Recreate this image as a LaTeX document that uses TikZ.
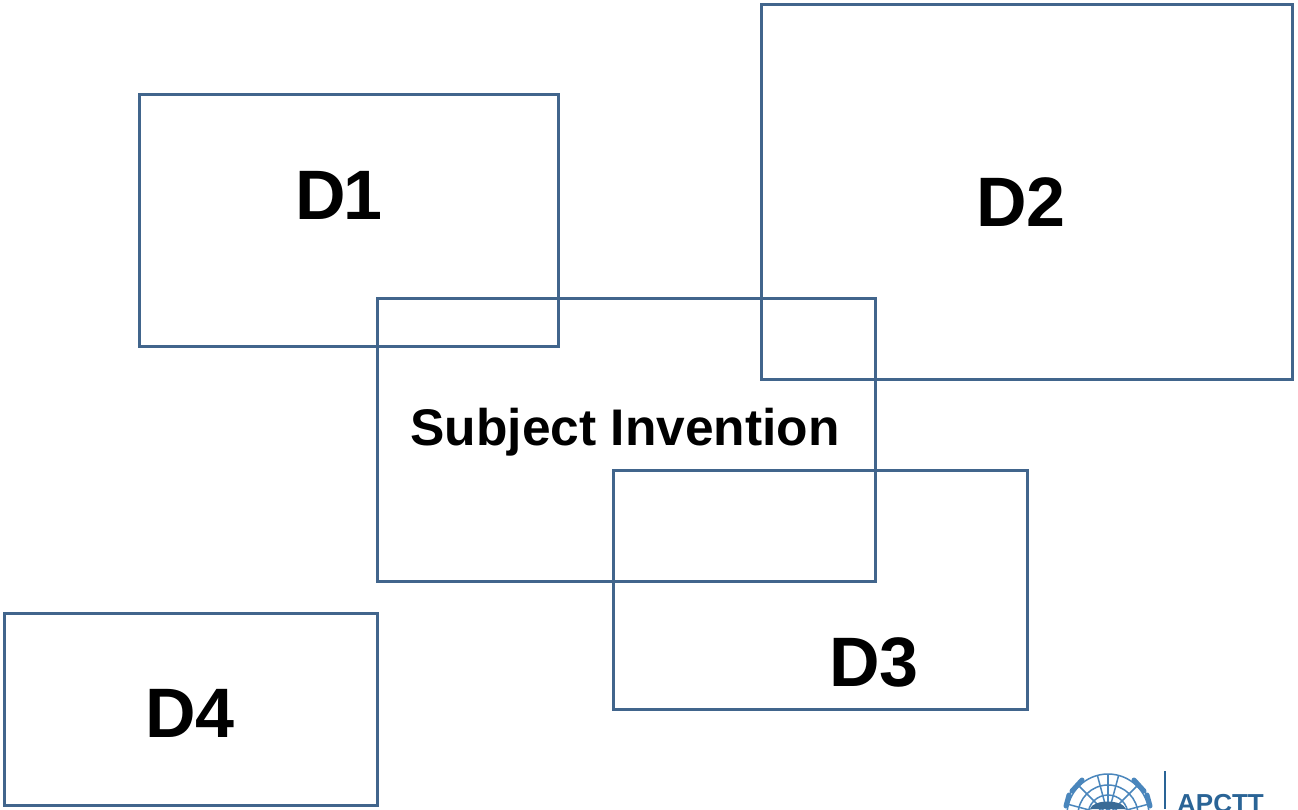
\documentclass[tikz,border=0pt]{standalone}
\usepackage{fontspec}
\setmainfont{Liberation Sans}
\definecolor{boxblue}{HTML}{41658C}
\definecolor{unblue}{HTML}{4A86BC}
\definecolor{apblue}{HTML}{2A6496}
\tikzset{
  regionbox/.style={draw=boxblue,line width=2.8pt,fill=none},
  biglabel/.style={font=\fontsize{70}{70}\selectfont\bfseries,text=black,inner sep=0pt,anchor=base},
  midlabel/.style={font=\fontsize{51.5}{52}\selectfont\bfseries,text=black,inner sep=0pt,anchor=base},
  globeline/.style={draw=unblue,line width=1.5pt},
  leaf/.style={draw=unblue,line width=5pt,line cap=round}
}
\begin{document}
\begin{tikzpicture}[x=1pt,y=-1pt]
\useasboundingbox (0,0) rectangle (1298,809);
\clip (0,0) rectangle (1298,809);
\fill[white] (0,0) rectangle (1298,809);
\draw[regionbox] (139.7,94.7) rectangle (558.7,346.7);
\draw[regionbox] (761.7,4.7) rectangle (1292.7,379.7);
\draw[regionbox] (377.7,298.7) rectangle (875.7,581.7);
\draw[regionbox] (613.7,470.7) rectangle (1027.7,709.7);
\draw[regionbox] (4.7,613.7) rectangle (377.7,805.7);
\node[biglabel] (d1) at (339,219) {D\kern-2pt 1};
\node[biglabel] (d2) at (1021,226) {D2};
\node[midlabel] (si) at (625,445) {Subject Invention};
\node[biglabel] (d3) at (874,686) {D3};
\node[biglabel] (d4) at (190,737) {D4};
% logo
\foreach \r in {10,20,30,41}{\draw[globeline] (1108,815) circle[radius=\r];}
\foreach \a in {-165,-135,-105,-75,-45,-15}{\draw[globeline] (1108,815) -- ++(\a:41);}
\draw[globeline] (1108,815) -- ++(-90:41);
\fill[unblue!80!black] (1090,809) .. controls (1093,799) and (1122,799) .. (1126,809) -- cycle;
\draw[leaf] (1066,806) -- (1069,795) (1072,791) -- (1082,780);
\draw[leaf] (1150,806) -- (1147,795) (1144,791) -- (1134,780);
\draw[draw=apblue,line width=1.5pt] (1165,771) -- (1165,809);
\node[inner sep=0pt,anchor=base west,font=\fontsize{26}{26}\selectfont\bfseries,text=apblue] (ap) at (1177,812) {APCTT};
\end{tikzpicture}
\end{document}
